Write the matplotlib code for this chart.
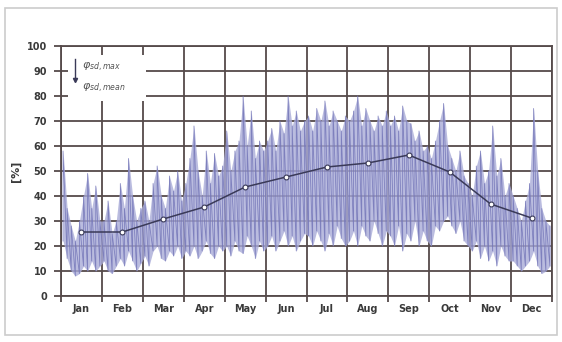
import numpy as np
import matplotlib
matplotlib.use("Agg")
import matplotlib.pyplot as plt
from matplotlib.patches import Rectangle

months = ["Jan", "Feb", "Mar", "Apr", "May", "Jun", "Jul", "Aug", "Sep", "Oct", "Nov", "Dec"]

# ~3-day samples (10 per month) of the upper (max) and lower (min) envelope [%]
upper = [
    58, 35, 28, 22, 30, 40, 49, 35, 44, 30,
    30, 38, 25, 30, 45, 35, 55, 40, 30, 35,
    38, 30, 45, 52, 40, 35, 48, 42, 50, 38,
    45, 55, 68, 50, 40, 58, 45, 57, 48, 52,
    66, 50, 58, 62, 80, 60, 74, 55, 62, 58,
    62, 67, 58, 70, 65, 80, 68, 74, 66, 70,
    72, 66, 75, 70, 78, 68, 74, 70, 66, 72,
    70, 74, 80, 68, 75, 70, 66, 72, 68, 74,
    68, 72, 66, 76, 70, 69, 62, 66, 58, 60,
    55, 62, 70, 77, 60, 55, 50, 58, 48, 45,
    40, 52, 58, 45, 50, 68, 48, 55, 40, 45,
    40, 35, 30, 38, 45, 75, 50, 35, 30, 28,
]
lower = [
    22, 15, 10, 8, 9, 12, 10, 14, 10, 12,
    14, 10, 9, 12, 15, 12, 18, 14, 10, 13,
    16, 12, 18, 20, 15, 14, 18, 16, 20, 15,
    18, 16, 20, 15, 18, 22, 17, 15, 20, 18,
    20, 16, 22, 18, 17, 24, 20, 15, 22, 18,
    20, 24, 18, 22, 26, 20, 24, 18, 22, 25,
    24, 20, 26, 22, 18, 25, 20, 28, 23, 20,
    22, 26, 20, 28, 24, 22, 30, 25, 20, 26,
    24, 20, 28, 18, 25, 22, 30, 20, 26, 22,
    20, 28, 26, 30, 32, 28, 25, 30, 22, 20,
    18, 22, 15, 20, 14, 18, 12, 20, 16, 14,
    14, 12, 10, 12, 14, 18, 12, 9, 10, 12,
]
# monthly mean values [%]
mean_vals = [25.6, 25.6, 30.8, 35.6, 43.6, 47.6, 51.6, 53.2, 56.4, 49.6, 36.8, 31.2]

fig = plt.figure(figsize=(5.62, 3.42), dpi=100)
fig.patch.set_facecolor("white")
fig.patches.append(Rectangle((5 / 562, 7 / 342), 552 / 562, 327 / 342, transform=fig.transFigure,
                             fill=False, edgecolor="#cccccc", linewidth=1.2))

ax = fig.add_axes([61 / 562, 46 / 342, 491 / 562, 250 / 342])

n = len(upper)
per = n // 12
x = np.array([i // per + ((i % per) + 0.5) / per for i in range(n)])
up = np.array(upper, dtype=float)
lo = np.array(lower, dtype=float)

ax.grid(True, which="major", color="#554a4a", linewidth=1.3, zorder=1)
ax.set_axisbelow(True)

ax.fill_between(x, lo, up, color="#a9abd8", alpha=0.8, linewidth=0, zorder=2)
xz = np.repeat(x, 2)
yz = np.empty(2 * n)
yz[0::2] = lo
yz[1::2] = up
ax.plot(xz, yz, color="#7476b8", linewidth=0.6, alpha=0.85, zorder=3)

xm = np.arange(12) + 0.5
ax.plot(xm, mean_vals, color="#3a3a58", linewidth=1.1, zorder=5,
        marker="o", markersize=3.5, markerfacecolor="white", markeredgecolor="#3a3a58",
        markeredgewidth=0.8)

ax.set_xlim(0, 12)
ax.set_ylim(0, 100)
ax.set_yticks(np.arange(0, 101, 10))
ax.set_xticks(np.arange(0, 13))
ax.set_xticklabels([])
ax.set_xticks(xm, minor=True)
ax.set_xticklabels(months, minor=True)
ax.tick_params(axis="x", which="minor", length=0, pad=6, labelsize=7, labelcolor="#3a3a3a")
ax.tick_params(axis="x", which="major", length=4, width=1.3, color="#554a4a")
ax.tick_params(axis="y", length=5, width=1.3, color="#554a4a", labelsize=7, labelcolor="#3a3a3a", pad=5)
for lab in ax.get_xticklabels(minor=True) + ax.get_yticklabels():
    lab.set_fontweight("bold")

for s in ax.spines.values():
    s.set_color("#554a4a")
    s.set_linewidth(1.3)

ax.set_ylabel("[%]", fontsize=8, color="#3a3a3a", labelpad=4, fontweight="bold")

# legend
ax.add_patch(Rectangle((0.014, 0.78), 0.16, 0.185, transform=ax.transAxes,
                       facecolor="white", edgecolor="none", zorder=6))
ax.plot([0.028, 0.028], [0.865, 0.95], transform=ax.transAxes, color="#3a3a58", lw=1.0, zorder=7)
ax.plot([0.028], [0.865], transform=ax.transAxes, marker="v", markersize=3, color="#3a3a58", zorder=7)
ax.text(0.042, 0.915, r"$\varphi_{sd,max}$", transform=ax.transAxes, fontsize=8,
        color="#555555", va="center", ha="left", zorder=8)
ax.text(0.042, 0.83, r"$\varphi_{sd,mean}$", transform=ax.transAxes, fontsize=8,
        color="#555555", va="center", ha="left", zorder=8)

fig.savefig("out.png", dpi=100, facecolor="white")
